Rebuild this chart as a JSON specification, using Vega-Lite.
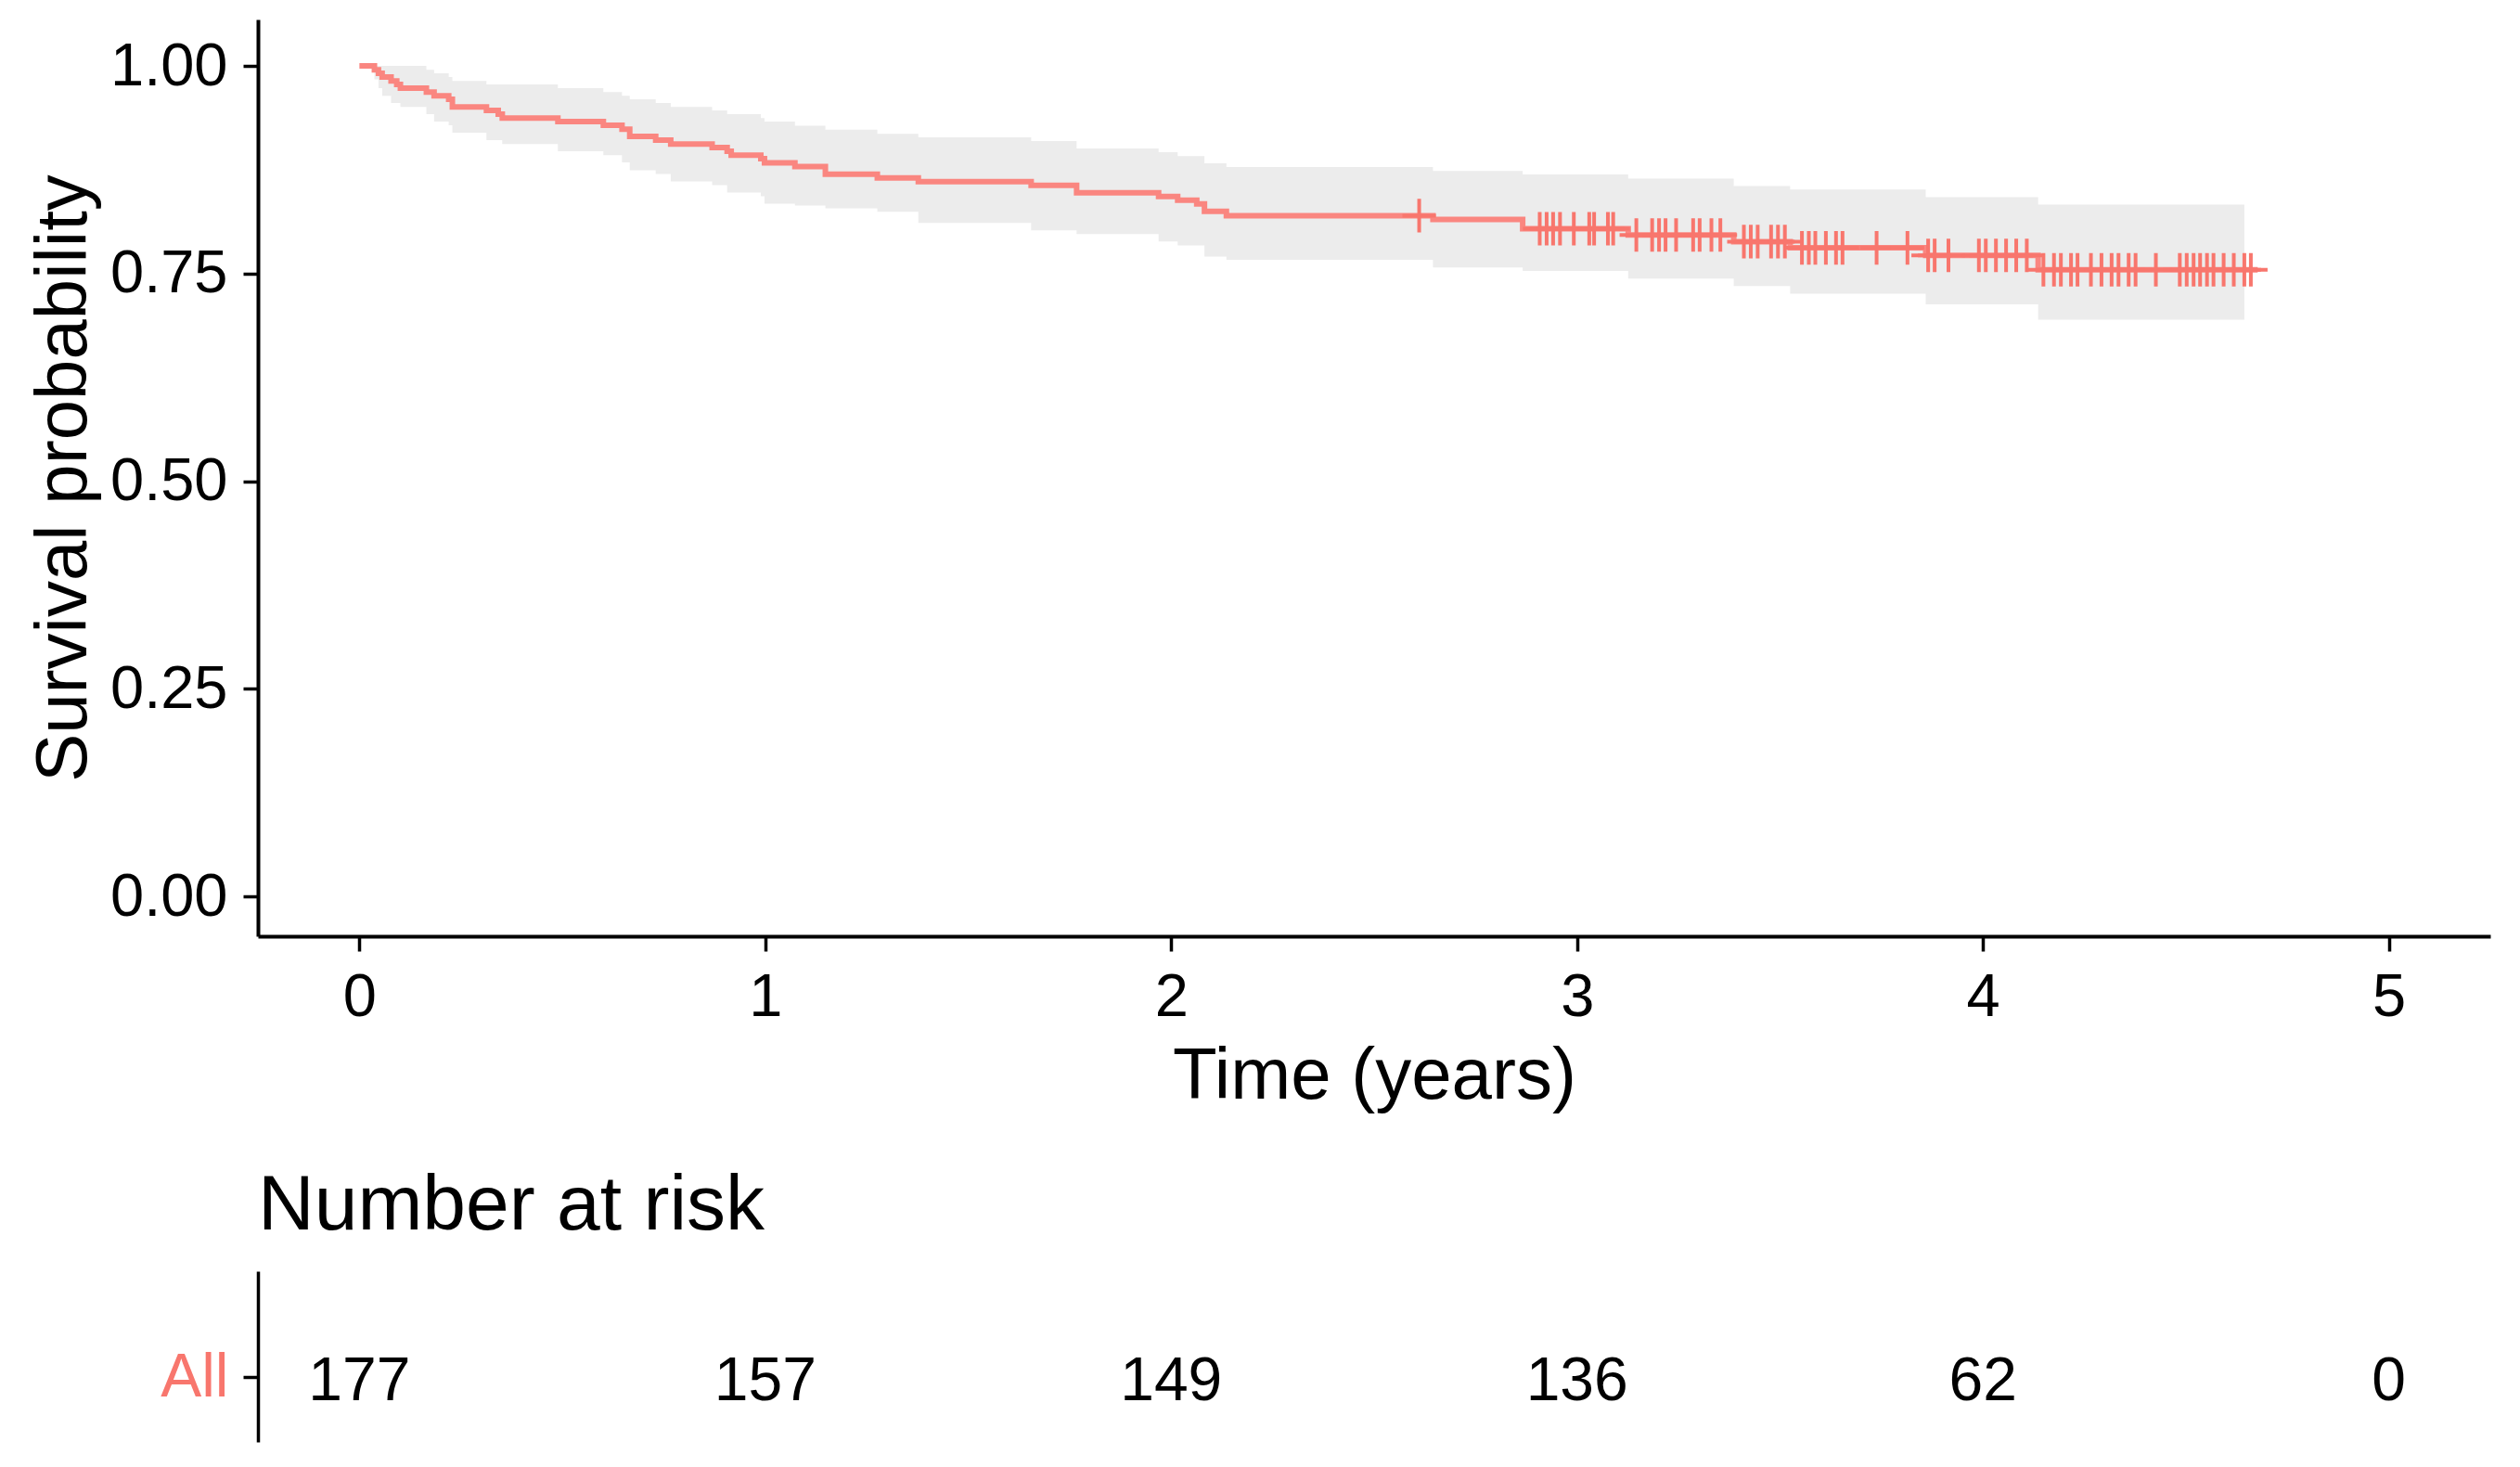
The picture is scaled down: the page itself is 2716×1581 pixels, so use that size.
{
  "$schema": "https://vega.github.io/schema/vega-lite/v6.json",
  "background": "white",
  "padding": {"left": 30, "top": 21, "right": 31, "bottom": 27},
  "spacing": 59,
  "config": {
    "font": "Liberation Sans",
    "view": {"stroke": null},
    "axis": {"grid": false, "domainColor": "black", "tickColor": "black", "labelColor": "black", "titleColor": "black", "labelFont": "Liberation Sans", "titleFont": "Liberation Sans", "titleFontWeight": "normal"}
  },
  "datasets": {
    "km": [
      {"t": 0, "S": 1.0}, {"t": 0.037, "S": 0.9955}, {"t": 0.047, "S": 0.9911}, {"t": 0.056, "S": 0.9866},
      {"t": 0.078, "S": 0.9821}, {"t": 0.092, "S": 0.9777}, {"t": 0.101, "S": 0.9732}, {"t": 0.165, "S": 0.9687},
      {"t": 0.184, "S": 0.9642}, {"t": 0.22, "S": 0.9598}, {"t": 0.229, "S": 0.9508}, {"t": 0.313, "S": 0.9464},
      {"t": 0.342, "S": 0.9419}, {"t": 0.352, "S": 0.9374}, {"t": 0.489, "S": 0.933}, {"t": 0.601, "S": 0.9285},
      {"t": 0.647, "S": 0.924}, {"t": 0.666, "S": 0.9151}, {"t": 0.73, "S": 0.9106}, {"t": 0.767, "S": 0.9061},
      {"t": 0.869, "S": 0.9017}, {"t": 0.906, "S": 0.8972}, {"t": 0.916, "S": 0.8927}, {"t": 0.989, "S": 0.8883},
      {"t": 0.998, "S": 0.8834}, {"t": 1.073, "S": 0.879}, {"t": 1.148, "S": 0.8696}, {"t": 1.276, "S": 0.8651},
      {"t": 1.377, "S": 0.8607}, {"t": 1.655, "S": 0.8562}, {"t": 1.767, "S": 0.8473}, {"t": 1.969, "S": 0.8428},
      {"t": 2.016, "S": 0.8383}, {"t": 2.063, "S": 0.8339}, {"t": 2.082, "S": 0.8249}, {"t": 2.136, "S": 0.8198},
      {"t": 2.645, "S": 0.8153}, {"t": 2.866, "S": 0.804}, {"t": 3.126, "S": 0.7965}, {"t": 3.386, "S": 0.7885},
      {"t": 3.525, "S": 0.781}, {"t": 3.859, "S": 0.772}, {"t": 4.136, "S": 0.7545}, {"t": 4.677, "S": 0.7545}
    ],
    "ci": [
      {"t": 0, "lo": 1.0, "hi": 1.0}, {"t": 0.037, "lo": 0.984, "hi": 1.0}, {"t": 0.047, "lo": 0.9732, "hi": 1.0},
      {"t": 0.056, "lo": 0.9642, "hi": 1.0}, {"t": 0.078, "lo": 0.9553, "hi": 1.0}, {"t": 0.101, "lo": 0.9508, "hi": 1.0},
      {"t": 0.165, "lo": 0.9419, "hi": 0.9955}, {"t": 0.184, "lo": 0.933, "hi": 0.9911}, {"t": 0.22, "lo": 0.9285, "hi": 0.9866},
      {"t": 0.229, "lo": 0.9196, "hi": 0.9821}, {"t": 0.313, "lo": 0.9106, "hi": 0.9777}, {"t": 0.352, "lo": 0.9061, "hi": 0.9777},
      {"t": 0.489, "lo": 0.8972, "hi": 0.9732}, {"t": 0.601, "lo": 0.8927, "hi": 0.9687}, {"t": 0.647, "lo": 0.8838, "hi": 0.9642},
      {"t": 0.666, "lo": 0.8745, "hi": 0.9598}, {"t": 0.73, "lo": 0.87, "hi": 0.9553}, {"t": 0.767, "lo": 0.8611, "hi": 0.9508},
      {"t": 0.869, "lo": 0.8566, "hi": 0.9464}, {"t": 0.906, "lo": 0.8477, "hi": 0.9419}, {"t": 0.989, "lo": 0.8432, "hi": 0.9374},
      {"t": 0.998, "lo": 0.8343, "hi": 0.933}, {"t": 1.073, "lo": 0.832, "hi": 0.928}, {"t": 1.148, "lo": 0.8287, "hi": 0.9232},
      {"t": 1.276, "lo": 0.8243, "hi": 0.9184}, {"t": 1.377, "lo": 0.8109, "hi": 0.914}, {"t": 1.655, "lo": 0.802, "hi": 0.9095},
      {"t": 1.767, "lo": 0.7975, "hi": 0.9006}, {"t": 1.969, "lo": 0.7886, "hi": 0.8961}, {"t": 2.016, "lo": 0.784, "hi": 0.8916},
      {"t": 2.082, "lo": 0.7706, "hi": 0.8827}, {"t": 2.136, "lo": 0.7665, "hi": 0.8782}, {"t": 2.645, "lo": 0.7575, "hi": 0.8737},
      {"t": 2.866, "lo": 0.7531, "hi": 0.8693}, {"t": 3.126, "lo": 0.7441, "hi": 0.8645}, {"t": 3.386, "lo": 0.7349, "hi": 0.8555},
      {"t": 3.525, "lo": 0.7259, "hi": 0.8511}, {"t": 3.859, "lo": 0.7129, "hi": 0.8421}, {"t": 4.136, "lo": 0.6946, "hi": 0.8332},
      {"t": 4.644, "lo": 0.6946, "hi": 0.8332}
    ],
    "censor": [
      {"t": 2.611, "S": 0.8198},
      {"t": 2.908, "S": 0.804}, {"t": 2.925, "S": 0.804}, {"t": 2.941, "S": 0.804}, {"t": 2.958, "S": 0.804}, {"t": 2.992, "S": 0.804},
      {"t": 3.03, "S": 0.804}, {"t": 3.042, "S": 0.804}, {"t": 3.076, "S": 0.804}, {"t": 3.089, "S": 0.804},
      {"t": 3.146, "S": 0.7965}, {"t": 3.185, "S": 0.7965}, {"t": 3.202, "S": 0.7965}, {"t": 3.218, "S": 0.7965}, {"t": 3.244, "S": 0.7965},
      {"t": 3.286, "S": 0.7965}, {"t": 3.302, "S": 0.7965}, {"t": 3.331, "S": 0.7965}, {"t": 3.353, "S": 0.7965},
      {"t": 3.411, "S": 0.7885}, {"t": 3.428, "S": 0.7885}, {"t": 3.445, "S": 0.7885}, {"t": 3.478, "S": 0.7885}, {"t": 3.495, "S": 0.7885}, {"t": 3.512, "S": 0.7885},
      {"t": 3.554, "S": 0.781}, {"t": 3.571, "S": 0.781}, {"t": 3.587, "S": 0.781}, {"t": 3.613, "S": 0.781}, {"t": 3.638, "S": 0.781},
      {"t": 3.654, "S": 0.781}, {"t": 3.738, "S": 0.781}, {"t": 3.814, "S": 0.781},
      {"t": 3.865, "S": 0.772}, {"t": 3.881, "S": 0.772}, {"t": 3.915, "S": 0.772}, {"t": 3.99, "S": 0.772}, {"t": 4.007, "S": 0.772},
      {"t": 4.032, "S": 0.772}, {"t": 4.057, "S": 0.772}, {"t": 4.082, "S": 0.772}, {"t": 4.108, "S": 0.772},
      {"t": 4.149, "S": 0.7545}, {"t": 4.175, "S": 0.7545}, {"t": 4.192, "S": 0.7545}, {"t": 4.217, "S": 0.7545}, {"t": 4.233, "S": 0.7545},
      {"t": 4.266, "S": 0.7545}, {"t": 4.292, "S": 0.7545}, {"t": 4.317, "S": 0.7545}, {"t": 4.334, "S": 0.7545}, {"t": 4.359, "S": 0.7545},
      {"t": 4.376, "S": 0.7545}, {"t": 4.426, "S": 0.7545}, {"t": 4.485, "S": 0.7545}, {"t": 4.502, "S": 0.7545}, {"t": 4.519, "S": 0.7545},
      {"t": 4.535, "S": 0.7545}, {"t": 4.552, "S": 0.7545}, {"t": 4.568, "S": 0.7545}, {"t": 4.593, "S": 0.7545}, {"t": 4.618, "S": 0.7545},
      {"t": 4.644, "S": 0.7545}, {"t": 4.66, "S": 0.7545}
    ],
    "risk": [
      {"t": 0, "strata": "All", "n": 177}, {"t": 1, "strata": "All", "n": 157}, {"t": 2, "strata": "All", "n": 149},
      {"t": 3, "strata": "All", "n": 136}, {"t": 4, "strata": "All", "n": 62}, {"t": 5, "strata": "All", "n": 0}
    ]
  },
  "vconcat": [
    {
      "width": 2406,
      "height": 988,
      "layer": [
        {
          "data": {"name": "ci"},
          "mark": {"type": "area", "interpolate": "step-after", "color": "#ECECEC"},
          "encoding": {
            "x": {"field": "t", "type": "quantitative"},
            "y": {"field": "lo", "type": "quantitative"},
            "y2": {"field": "hi"}
          }
        },
        {
          "data": {"name": "km"},
          "mark": {"type": "line", "interpolate": "step-after", "color": "#FA8680", "strokeWidth": 6},
          "encoding": {
            "x": {"field": "t", "type": "quantitative"},
            "y": {"field": "S", "type": "quantitative"}
          }
        },
        {
          "data": {"name": "censor"},
          "mark": {"type": "point", "shape": "M-1,0H1M0,-1V1", "filled": false, "stroke": "#F8766D", "strokeWidth": 4, "size": 1300, "opacity": 1},
          "encoding": {
            "x": {"field": "t", "type": "quantitative"},
            "y": {"field": "S", "type": "quantitative"}
          }
        }
      ],
      "encoding": {
        "x": {
          "field": "t", "type": "quantitative",
          "scale": {"domain": [-0.25, 5.25], "nice": false, "zero": false},
          "axis": {"title": "Time (years)", "values": [0, 1, 2, 3, 4, 5], "format": "d", "labelFontSize": 65, "titleFontSize": 78, "tickSize": 16, "tickWidth": 3.5, "domainWidth": 4, "labelPadding": 18, "titlePadding": 14, "labelFlush": false}
        },
        "y": {
          "field": "S", "type": "quantitative",
          "scale": {"domain": [-0.048, 1.056], "nice": false, "zero": false},
          "axis": {"title": "Survival probability", "values": [0, 0.25, 0.5, 0.75, 1], "format": ".2f", "labelFontSize": 65, "titleFontSize": 78, "tickSize": 16, "tickWidth": 3.5, "domainWidth": 4, "labelPadding": 17, "titlePadding": 10, "labelFlush": false}
        }
      }
    },
    {
      "width": 2406,
      "height": 184,
      "title": {"text": "Number at risk", "anchor": "start", "frame": "group", "fontSize": 84, "fontWeight": "normal", "color": "black", "offset": 27},
      "data": {"name": "risk"},
      "mark": {"type": "text", "fontSize": 66, "align": "center", "baseline": "middle", "dy": 5, "color": "black"},
      "encoding": {
        "x": {"field": "t", "type": "quantitative", "scale": {"domain": [-0.25, 5.25], "nice": false, "zero": false}, "axis": null},
        "y": {"field": "strata", "type": "nominal", "scale": {"type": "point", "align": 0.62, "padding": 0.5}, "axis": {"title": null, "labelColor": "#F8766D", "labelFontSize": 66, "tickSize": 16, "tickWidth": 3.5, "domainWidth": 3.5, "labelPadding": 16}},
        "text": {"field": "n", "type": "quantitative"}
      }
    }
  ]
}
